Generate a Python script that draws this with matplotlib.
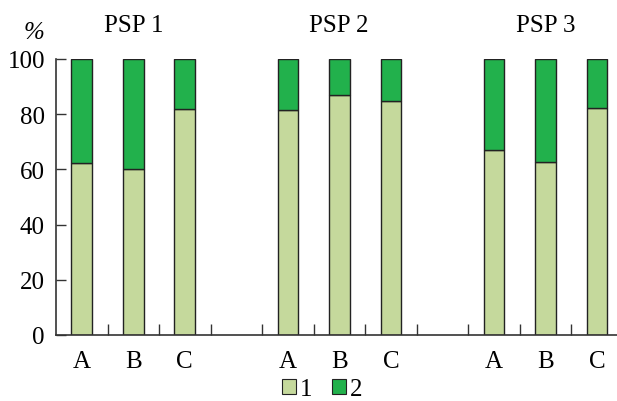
import matplotlib
matplotlib.use("Agg")
import matplotlib.pyplot as plt
import numpy as np

groups = ["PSP 1", "PSP 2", "PSP 3"]
categories = ["A", "B", "C"]
series1 = [62.5, 60.0, 81.8, 81.5, 87.0, 84.7, 67.1, 62.6, 82.1]
series2 = [100 - v for v in series1]
yticks = [0, 20, 40, 60, 80, 100]

plt.rcParams['font.family'] = ['Liberation Serif', 'DejaVu Serif']
FS = 18

fig = plt.figure(figsize=(6.17, 4.02), dpi=100)
ax = fig.add_axes([56/617, 1-336/402, 1-56/617, (336-60)/402])

positions = []
for g in range(len(groups)):
    for c in range(len(categories)):
        positions.append(g * 4 + c)
positions = np.array(positions)

light = "#c5d99c"
dark = "#22b14c"
ax.bar(positions, series1, width=0.4, color=light, edgecolor="#222222", linewidth=1.0, label="1")
ax.bar(positions, series2, width=0.4, bottom=series1, color=dark, edgecolor="#222222", linewidth=1.0, label="2")

ax.set_xlim(-0.5, 10.39)
ax.set_ylim(0, 100)
ax.set_yticks(yticks)
ax.set_yticklabels([str(t) for t in yticks], fontsize=FS)
ax.set_xticks(positions)
ax.set_xticklabels(categories * len(groups), fontsize=FS)
ax.tick_params(axis='x', which='major', length=0, pad=11)
ax.set_xticks(np.arange(0.5, 10, 1.0), minor=True)
ax.tick_params(axis='x', which='minor', direction='in', length=8, width=1.0, color="#333333")
ax.tick_params(axis='y', direction='in', length=7, width=1.0, color="#333333", pad=8)
for s in ["top", "right"]:
    ax.spines[s].set_visible(False)
for s in ["left", "bottom"]:
    ax.spines[s].set_linewidth(1.2)
    ax.spines[s].set_color("#333333")

for g, name in enumerate(groups):
    xpix = 56 + (g * 4 + 1 + 0.5) * 51.5
    fig.text(xpix/617, 1 - 26/402, name, fontsize=FS, ha="center", va="center")

fig.text(34/617, 1 - 33/402, "%", fontsize=FS, ha="center", va="center", style="italic")

leg = fig.legend(loc="lower center", bbox_to_anchor=(322/617, 1/402), ncol=2, frameon=False,
                 fontsize=FS, handlelength=0.55, handleheight=0.55, handletextpad=0.15,
                 columnspacing=0.8, borderaxespad=0, borderpad=0)
for h in leg.legend_handles:
    h.set_linewidth(0.8)

fig.savefig("out.png", dpi=100)
